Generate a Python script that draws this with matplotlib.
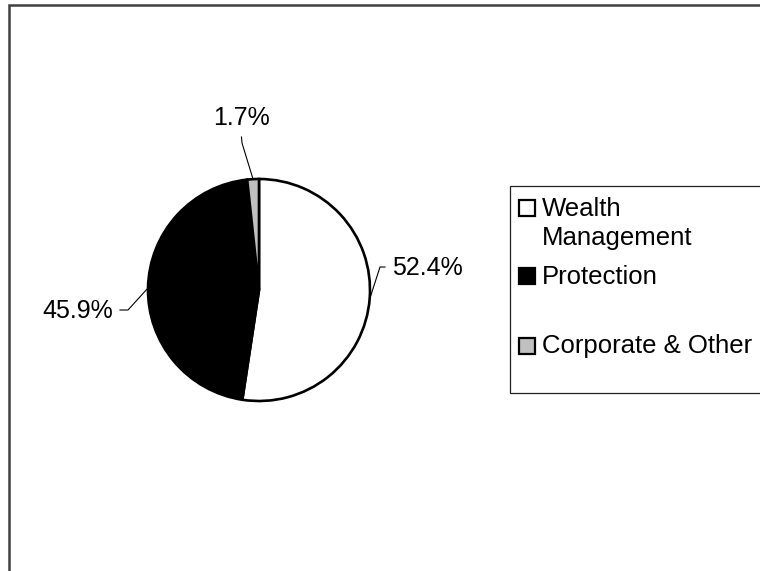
import matplotlib
matplotlib.use("Agg")
import matplotlib.pyplot as plt
from matplotlib.patches import Rectangle

plt.rcParams['font.family'] = ['Liberation Sans', 'DejaVu Sans']

categories = ["Wealth Management", "Protection", "Corporate & Other"]
legend_labels = ["Wealth\nManagement", "Protection", "Corporate & Other"]
values = [52.4, 45.9, 1.7]
label_texts = ["52.4%", "45.9%", "1.7%"]
colors = ["#ffffff", "#000000", "#c0c0c0"]

W, H = 760, 571
fig = plt.figure(figsize=(W / 100, H / 100), dpi=100)
ax = fig.add_axes([0, 0, 1, 1])

def py(y):
    return H - y

cx, cy, R = 259, 290, 111
ax.pie(values, colors=colors, startangle=90, counterclock=False,
       center=(cx, py(cy)), radius=R,
       wedgeprops=dict(edgecolor="black", linewidth=1.9))
ax.set_xlim(0, W)
ax.set_ylim(0, H)
ax.set_aspect('auto')
ax.axis('off')

fs = 18
# data labels with leader lines
ax.plot([370, 380, 385], [py(298), py(267), py(267)], color="black", lw=0.8)
ax.text(392, py(275), label_texts[0], fontsize=fs, ha="left", va="baseline")

ax.plot([148, 128, 120], [py(288), py(310), py(310)], color="black", lw=0.8)
ax.text(113, py(318), label_texts[1], fontsize=fs, ha="right", va="baseline")

ax.plot([241.5, 242, 253], [py(137), py(143), py(179)], color="black", lw=0.8)
ax.text(241.5, py(125), label_texts[2], fontsize=fs, ha="center", va="baseline")

# legend box
ax.add_patch(Rectangle((510, py(393)), 260, 393 - 186, facecolor="white",
                       edgecolor="#222222", lw=0.9, clip_on=False))
marker_tops = [199, 267, 337]
baselines = [[215.7, 245], [284], [353.3]]
for i, lab in enumerate(legend_labels):
    t = marker_tops[i]
    ax.add_patch(Rectangle((518.5, py(t + 16.5)), 16, 16, facecolor=colors[i],
                           edgecolor="black", lw=1.6, clip_on=False))
    for line, b in zip(lab.split("\n"), baselines[i]):
        ax.text(541.5, py(b), line, fontsize=18.5, ha="left", va="baseline")

# outer frame
fig.patches.append(Rectangle((9 / W, -0.05), 1.1, (H - 5) / H + 0.05,
                             transform=fig.transFigure, facecolor="none",
                             edgecolor="#404040", lw=1.8))

fig.savefig("out.png", dpi=100)
